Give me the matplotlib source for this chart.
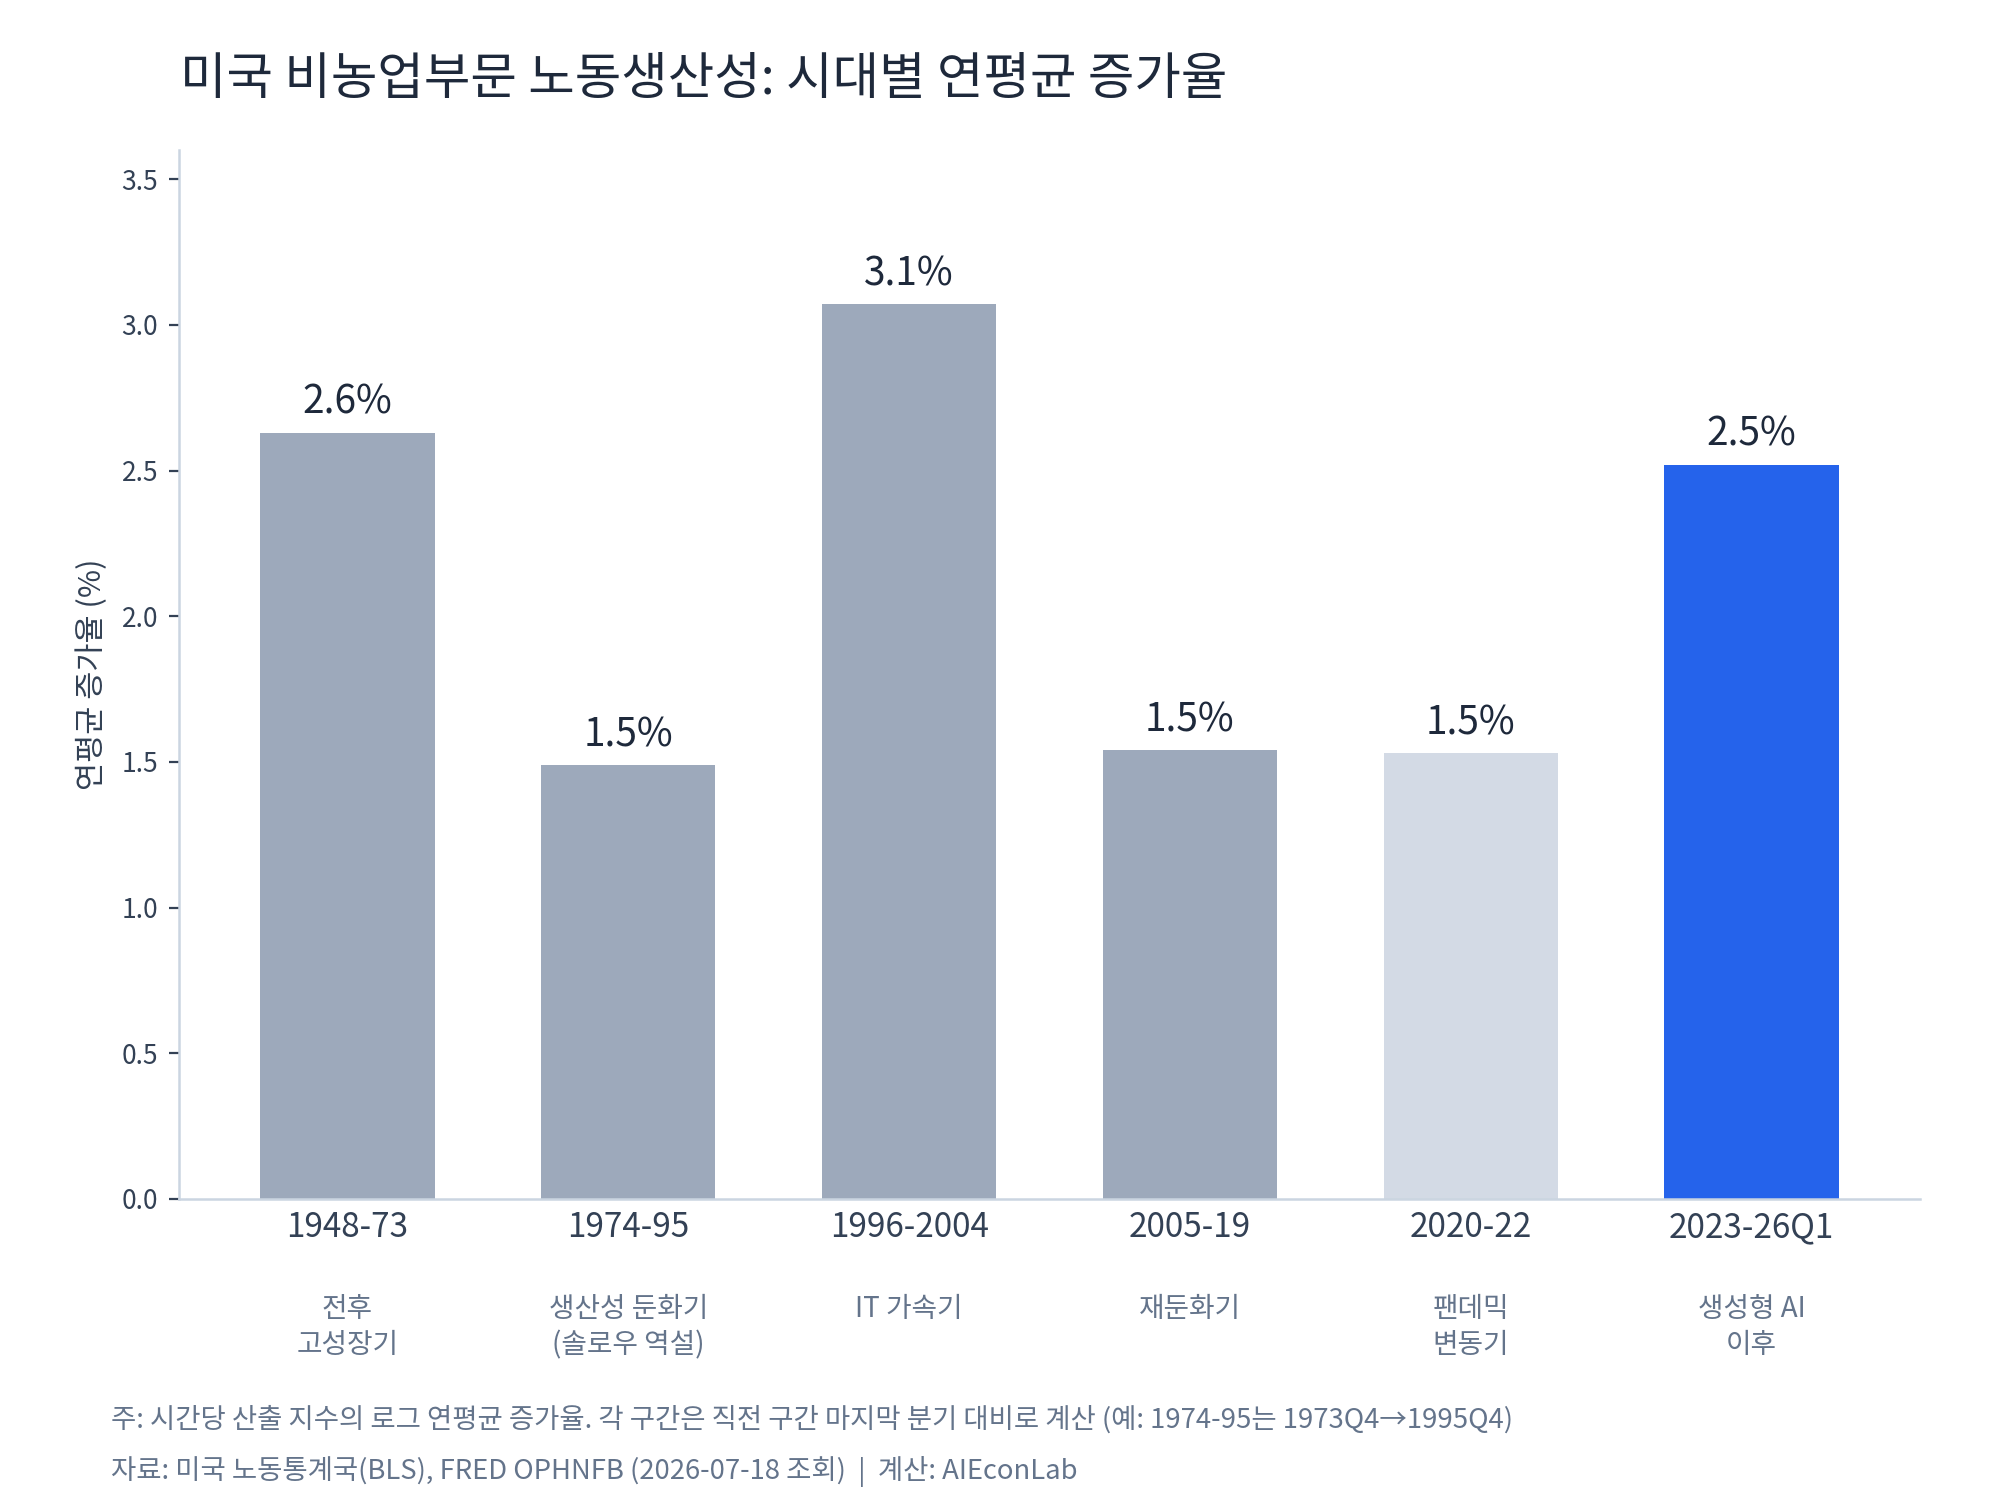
from matplotlib import pyplot as plt
from matplotlib import transforms

plt.rcParams['font.family'] = ['Noto Sans CJK KR', 'DejaVu Sans']

# Data
periods = ["1948-73", "1974-95", "1996-2004", "2005-19", "2020-22", "2023-26Q1"]
eras = ["전후\n고성장기", "생산성 둔화기\n(솔로우 역설)", "IT 가속기", "재둔화기", "팬데믹\n변동기", "생성형 AI\n이후"]
growth = [2.63, 1.49, 3.07, 1.54, 1.53, 2.52]
bar_colors = ["#9DA9BB", "#9DA9BB", "#9DA9BB", "#9DA9BB", "#D3DAE5", "#2563EB"]

dark = "#1E293B"
mid = "#334155"
muted = "#64748B"
rule = "#CBD5E1"

fig = plt.figure(figsize=(10, 7.5), dpi=200)
ax = fig.add_axes([0.0895, 0.2007, 0.8705, 0.6993])

x = list(range(len(periods)))
bars = ax.bar(x, growth, width=0.62, color=bar_colors, zorder=2)

for b, v in zip(bars, growth):
    ax.annotate(f"{v:.1f}%", (b.get_x() + b.get_width() / 2, v),
                xytext=(0, 3.5), textcoords="offset points",
                ha="center", va="bottom", fontsize=14, color=dark)

ax.set_xlim(-0.6, 5.6)
ax.set_ylim(0, 3.6)
ax.set_yticks([0, 0.5, 1.0, 1.5, 2.0, 2.5, 3.0, 3.5])
ax.set_yticklabels([f"{t:.1f}" for t in ax.get_yticks()])
ax.set_xticks(x)
ax.set_xticklabels(periods, fontsize=12, color=mid)
ax.tick_params(axis="x", length=0, pad=4)
ax.tick_params(axis="y", length=3.5, width=0.8, color=mid, labelsize=9.5,
               labelcolor=mid, pad=4)

for s in ["top", "right"]:
    ax.spines[s].set_visible(False)
for s in ["left", "bottom"]:
    ax.spines[s].set_color(rule)
    ax.spines[s].set_linewidth(0.9)

ax.set_ylabel("연평균 증가율 (%)", fontsize=11, color=mid, labelpad=5)

# era descriptions under the period labels
trans = transforms.blended_transform_factory(ax.transData, ax.transAxes)
for xi, lab in zip(x, eras):
    ax.text(xi, -0.091, lab, transform=trans, ha="center", va="top",
            fontsize=10, color=muted, linespacing=1.25)

fig.text(0.09, 0.947, "미국 비농업부문 노동생산성: 시대별 연평균 증가율",
         fontsize=18.2, color=dark, va="center", ha="left")

fig.text(0.0555, 0.0533,
         "주: 시간당 산출 지수의 로그 연평균 증가율. 각 구간은 직전 구간 마지막 분기 대비로 계산 (예: 1974-95는 1973Q4→1995Q4)",
         fontsize=9.9, color=muted, va="center", ha="left")
fig.text(0.0555, 0.0193,
         "자료: 미국 노동통계국(BLS), FRED OPHNFB (2026-07-18 조회)  |  계산: AIEconLab",
         fontsize=9.9, color=muted, va="center", ha="left")

fig.savefig("out.png", dpi=200, facecolor="white")
